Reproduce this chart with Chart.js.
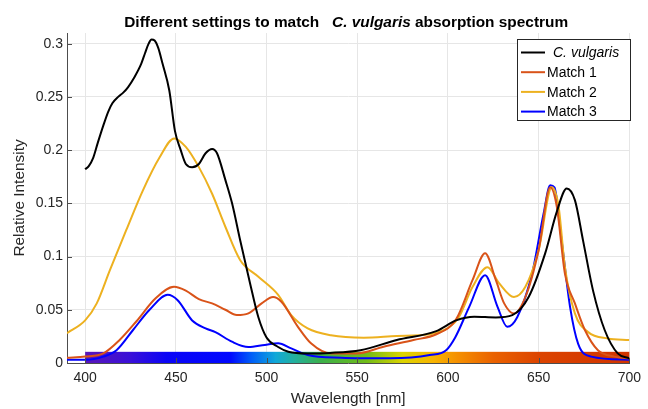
<!DOCTYPE html>
<html>
<head>
<meta charset="utf-8">
<script src="https://cdn.jsdelivr.net/npm/chart.js@4.4.1/dist/chart.umd.min.js"></script>
<style>
  html, body { margin: 0; padding: 0; background: #fff; }
  #wrap { width: 648px; height: 409px; position: relative; }
</style>
</head>
<body>
<div id="wrap"><canvas id="chart" width="648" height="409"></canvas></div>
<script>
// wavelengths (nm) and values
const cvWl  = [400, 402, 404.5, 407, 410, 412.7, 415, 418.2, 421, 423.6, 427, 430.9, 433, 435, 436.6, 438.3, 440.3, 442.7, 446.4, 449.5, 452.7, 455.5, 459, 462.7, 466.4, 470, 472.7, 477.3, 481, 485.5, 490.9, 495.5, 500, 506.4, 512, 522.7, 535, 551.8, 571.8, 593.6, 604.5, 614.5, 626.4, 635.5, 644.5, 653.6, 660, 665.5, 670, 674.5, 680, 686.4, 693.6, 700];
const cvVal = [0.182, 0.185, 0.193, 0.207, 0.223, 0.236, 0.244, 0.250, 0.254, 0.259, 0.268, 0.281, 0.291, 0.300, 0.304, 0.303, 0.296, 0.281, 0.256, 0.218, 0.200, 0.187, 0.184, 0.187, 0.197, 0.201, 0.197, 0.172, 0.150, 0.115, 0.075, 0.043, 0.024, 0.015, 0.0106, 0.009, 0.0095, 0.012, 0.0216, 0.030, 0.040, 0.0434, 0.0428, 0.045, 0.062, 0.103, 0.142, 0.164, 0.153, 0.115, 0.068, 0.031, 0.009, 0.0044];

const m1Wl  = [390, 400, 410, 419, 428.2, 439, 449, 455.5, 462.7, 470, 477.3, 483.6, 490, 497.3, 503.6, 508.2, 517.3, 524.5, 535.5, 550, 564.5, 581, 593.6, 604.5, 613.6, 620.5, 626.4, 631, 636.4, 642.7, 650, 656.4, 660, 664.5, 670, 675.5, 682.7, 691.8, 700];
const m1Val = [0.005, 0.006, 0.009, 0.0216, 0.039, 0.061, 0.0716, 0.068, 0.060, 0.056, 0.050, 0.045, 0.0466, 0.056, 0.062, 0.0575, 0.034, 0.0185, 0.009, 0.009, 0.0153, 0.0216, 0.027, 0.041, 0.078, 0.103, 0.078, 0.056, 0.0466, 0.062, 0.106, 0.165, 0.147, 0.084, 0.056, 0.031, 0.012, 0.006, 0.0044];

const m2Wl  = [390, 400, 406.4, 413.6, 422.7, 431.8, 441, 449.1, 455.5, 462.7, 470, 477.3, 485.5, 495.5, 506.4, 513.6, 522.7, 535.5, 553.6, 571.8, 590, 601, 606, 613.6, 621.8, 628.2, 636.4, 642.7, 650, 657.3, 661, 664.5, 670, 677.3, 688.2, 700];
const m2Val = [0.028, 0.040, 0.056, 0.087, 0.125, 0.162, 0.193, 0.211, 0.203, 0.184, 0.159, 0.128, 0.0966, 0.081, 0.064, 0.045, 0.0325, 0.026, 0.0237, 0.0253, 0.027, 0.034, 0.043, 0.0716, 0.090, 0.075, 0.062, 0.0716, 0.106, 0.165, 0.147, 0.090, 0.0466, 0.029, 0.023, 0.0216];

const m3Wl  = [390, 400, 410, 417.3, 426.4, 435.5, 445.5, 451, 459, 466.4, 471.8, 480.9, 490, 499, 506.4, 513.6, 522.7, 541, 568.2, 590, 599, 604, 611.8, 620.5, 627.3, 632.7, 638.2, 646.4, 652.7, 656.4, 658.7, 662.7, 667.3, 671.8, 679, 700];
const m3Val = [0.003, 0.003, 0.006, 0.012, 0.031, 0.050, 0.064, 0.059, 0.040, 0.0325, 0.029, 0.020, 0.015, 0.017, 0.0185, 0.0137, 0.0075, 0.005, 0.0044, 0.0075, 0.012, 0.024, 0.053, 0.0825, 0.053, 0.034, 0.043, 0.084, 0.140, 0.167, 0.165, 0.115, 0.053, 0.018, 0.006, 0.003];

const seriesNames  = ["C. vulgaris", "Match 1", "Match 2", "Match 3"];
const seriesColors = ["#000000", "#D95319", "#EDB120", "#0000FF"];
const xTicks = [400, 450, 500, 550, 600, 650, 700];
const yTicks = [0, 0.05, 0.1, 0.15, 0.2, 0.25, 0.3];

// visible spectrum strip along the bottom
const bandWl    = [400, 425, 445, 480, 492, 505, 515, 530, 555, 575, 592, 605, 625, 650, 700];
const bandColor = ["#5a16b8", "#3a10d8", "#0a04f6", "#0008ff", "#0060f8", "#10a8d8", "#22b0a0", "#3cb04a", "#70bc18", "#dcd400", "#f8b400", "#f59000", "#ea6200", "#dc4400", "#d03400"];
const bandTop = 0.0105;

const FONT = "'Liberation Sans', Arial, sans-serif";
const TXT = "#262626";

function pts(wl, val) { return wl.map((w, i) => ({ x: w, y: val[i] })); }

const allData = [pts(cvWl, cvVal), pts(m1Wl, m1Val), pts(m2Wl, m2Val), pts(m3Wl, m3Val)];

const extras = {
  id: "extras",
  beforeDatasetsDraw(chart) {
    const { ctx, scales: { x, y } } = chart;
    const x0 = x.getPixelForValue(bandWl[0]);
    const x1 = x.getPixelForValue(bandWl[bandWl.length - 1]);
    const g = ctx.createLinearGradient(x0, 0, x1, 0);
    bandWl.forEach((w, i) => g.addColorStop((w - bandWl[0]) / (bandWl[bandWl.length - 1] - bandWl[0]), bandColor[i]));
    const yt = y.getPixelForValue(bandTop), yb = y.getPixelForValue(0);
    ctx.save();
    ctx.fillStyle = g;
    ctx.fillRect(x0, yt, x1 - x0, yb - yt);
    ctx.restore();
  },
  afterDraw(chart) {
    const { ctx, chartArea: a, scales: { x, y } } = chart;
    ctx.save();
    // inward tick marks
    ctx.strokeStyle = "#4d4d4d";
    ctx.lineWidth = 1;
    ctx.beginPath();
    yTicks.forEach(v => {
      const py = Math.round(y.getPixelForValue(v)) + 0.5;
      ctx.moveTo(a.left, py); ctx.lineTo(a.left + 5, py);
    });
    xTicks.forEach(v => {
      const px = Math.round(x.getPixelForValue(v)) + 0.5;
      ctx.moveTo(px, a.bottom); ctx.lineTo(px, a.bottom - 5);
    });
    ctx.stroke();

    // title with italic species name, centred over the axes
    const parts = [
      ["bold 15.4px " + FONT, "Different settings to match   "],
      ["italic bold 15.4px " + FONT, "C. vulgaris"],
      ["bold 15.4px " + FONT, " absorption spectrum"]
    ];
    let w = 0;
    parts.forEach(p => { ctx.font = p[0]; w += ctx.measureText(p[1]).width; });
    let tx = (a.left + a.right) / 2 - 2 - w / 2;
    ctx.fillStyle = "#000";
    ctx.textBaseline = "alphabetic";
    ctx.textAlign = "left";
    parts.forEach(p => { ctx.font = p[0]; ctx.fillText(p[1], tx, 27); tx += ctx.measureText(p[1]).width; });

    // legend box
    const lx = 517.5, ly = 39.5, lw = 113, lh = 81;
    ctx.fillStyle = "#fff";
    ctx.fillRect(lx, ly, lw, lh);
    ctx.strokeStyle = "#262626";
    ctx.lineWidth = 1;
    ctx.strokeRect(lx, ly, lw, lh);
    chart.data.datasets.forEach((ds, i) => {
      const ry = 52.5 + i * 19.7;
      ctx.strokeStyle = ds.borderColor;
      ctx.lineWidth = 2;
      ctx.beginPath();
      ctx.moveTo(521, ry); ctx.lineTo(545, ry);
      ctx.stroke();
      ctx.fillStyle = "#000";
      ctx.textBaseline = "middle";
      if (i === 0) {
        ctx.font = "italic 14px " + FONT;
        ctx.fillText(ds.label, 553, ry + 1);
      } else {
        ctx.font = "14px " + FONT;
        ctx.fillText(ds.label, 547, ry + 1);
      }
    });
    ctx.restore();
  }
};

new Chart(document.getElementById("chart"), {
  type: "line",
  data: {
    datasets: allData.map((d, i) => ({
      label: seriesNames[i],
      data: d,
      borderColor: seriesColors[i],
      backgroundColor: seriesColors[i],
      borderWidth: 2,
      pointRadius: 0,
      fill: false,
      cubicInterpolationMode: "monotone"
    }))
  },
  options: {
    responsive: false,
    animation: false,
    layout: { padding: { top: 33, right: 12, left: 0, bottom: 0 } },
    plugins: { legend: { display: false }, title: { display: false }, tooltip: { enabled: false } },
    scales: {
      x: {
        type: "linear",
        min: 390,
        max: 700,
        afterBuildTicks: s => { s.ticks = xTicks.map(v => ({ value: v })); },
        afterFit: s => { s.height = 46; },
        grid: { color: "#e6e6e6", drawTicks: false },
        border: { color: "#4d4d4d", width: 1 },
        ticks: { color: TXT, font: { family: FONT, size: 14 }, padding: 7, maxRotation: 0 },
        title: { display: true, text: "Wavelength [nm]", color: TXT, font: { family: FONT, size: 15.4 }, padding: { top: 0, bottom: 1 } }
      },
      y: {
        min: 0,
        max: 0.31,
        afterBuildTicks: s => { s.ticks = yTicks.map(v => ({ value: v })); },
        afterFit: s => { s.width = 67; },
        grid: { color: "#e6e6e6", drawTicks: false },
        border: { color: "#4d4d4d", width: 1 },
        ticks: { color: TXT, font: { family: FONT, size: 14 }, padding: 4, callback: v => String(v) },
        title: { display: true, text: "Relative Intensity", color: TXT, font: { family: FONT, size: 15.4 }, padding: { top: 11, bottom: 0 } }
      }
    }
  },
  plugins: [extras]
});
</script>
</body>
</html>
